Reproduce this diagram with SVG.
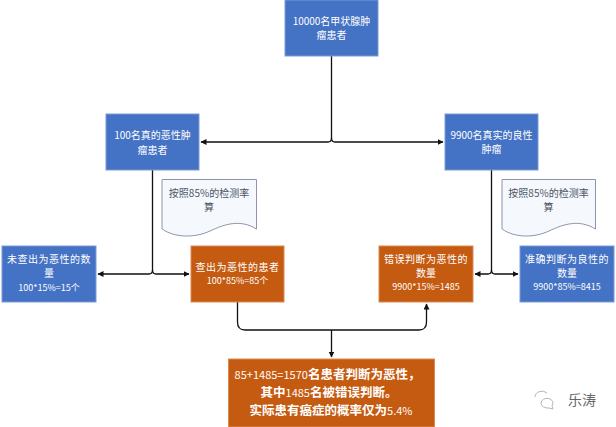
<svg xmlns="http://www.w3.org/2000/svg" width="616" height="427" viewBox="0 0 616 427">
<style>
.b{fill:#4472c4;stroke:#7d9ad6;stroke-width:1}
.o{fill:#c55a11;stroke:#d98a55;stroke-width:1}
.t{font-family:"Noto Sans CJK SC","Liberation Sans",sans-serif;font-size:10px;fill:#fff;text-anchor:middle}
.s{font-size:9px}
.l{letter-spacing:.5px}
.n{fill:#f5f8fd;stroke:#8c95ab;stroke-width:1}
.d{fill:#4d5566}
.w{font-family:"Noto Sans CJK SC","Liberation Sans",sans-serif;font-size:12.500px;font-weight:700;fill:#fff;text-anchor:middle}
.m{font-size:11px;font-weight:400}
.c{fill:none;stroke:#111;stroke-width:1.3}
</style>
<defs>
<marker id="a" markerWidth="7" markerHeight="7" refX="5.5" refY="3" orient="auto" markerUnits="userSpaceOnUse"><path d="M0 0L6 3L0 6Z" fill="#111"/></marker>
</defs>
<rect width="616" height="427" fill="#fff"/>
<g id="connectors">
<path class="c" d="M331.500 56V138Q331.500 142 328 142H201" marker-end="url(#a)"/>
<path class="c" d="M331.500 138Q331.500 142 335 142H443" marker-end="url(#a)"/>
<path class="c" d="M152.500 170V270Q152.500 274 149 274H98" marker-end="url(#a)"/>
<path class="c" d="M152.500 270Q152.500 274 156 274H189" marker-end="url(#a)"/>
<path class="c" d="M491.500 170V270Q491.500 274 488 274H475" marker-end="url(#a)"/>
<path class="c" d="M491.500 270Q491.500 274 495 274H518" marker-end="url(#a)"/>
<path class="c" d="M237.500 302V322Q237.500 330 245 330H419Q426.500 330 426.500 322V304" marker-end="url(#a)"/>
<path class="c" d="M331.500 330V357" marker-end="url(#a)"/>
</g>
<g id="n1"><rect class="b" x="285" y="0" width="93" height="56"/><text class="t" x="331.500" y="25">10000名甲状腺肿</text><text class="t" x="331.500" y="39">瘤患者</text></g>
<g id="n2"><rect class="b" x="106" y="114" width="93" height="56"/><text class="t" x="152.500" y="139">100名真的恶性肿</text><text class="t" x="152.500" y="154">瘤患者</text></g>
<g id="n3"><rect class="b" x="445" y="114" width="93" height="56"/><text class="t" x="491.500" y="139">9900名真实的良性</text><text class="t" x="491.500" y="153">肿瘤</text></g>
<g id="note1"><path class="n" d="M162 179.500H256.500V229C240 219 225 224 210 231C195 238 175 238 162 229Z"/><text class="t d" x="209" y="197">按照85%的检测率</text><text class="t d" x="209" y="211">算</text></g>
<g id="note2"><path class="n" d="M502 179.500H595.500V229C579 219 564 224 549 231C534 238 515 238 502 229Z"/><text class="t d" x="548.500" y="197">按照85%的检测率</text><text class="t d" x="548.500" y="211">算</text></g>
<g id="n4"><rect class="b" x="2" y="246" width="94" height="56"/><text class="t l" x="49" y="263">未查出为恶性的数</text><text class="t" x="49" y="277">量</text><text class="t s" x="49" y="291">100*15%=15个</text></g>
<g id="n5"><rect class="o" x="191" y="246" width="93" height="56"/><text class="t l" x="237.500" y="271">查出为恶性的患者</text><text class="t s" x="237.500" y="284">100*85%=85个</text></g>
<g id="n6"><rect class="o" x="379" y="246" width="94" height="56"/><text class="t l" x="426" y="263">错误判断为恶性的</text><text class="t" x="426" y="277">数量</text><text class="t s" x="426" y="290">9900*15%=1485</text></g>
<g id="n7"><rect class="b" x="520" y="246" width="94" height="56"/><text class="t l" x="567" y="263">准确判断为良性的</text><text class="t" x="567" y="277">数量</text><text class="t s" x="567" y="290">9900*85%=8415</text></g>
<g id="n8"><rect class="o" x="228.500" y="359" width="206" height="68"/><text class="w" x="327.500" y="379"><tspan class="m">85+1485=1570</tspan>名患者判断为恶性，</text><text class="w" x="329" y="397.200">其中<tspan class="m">1485</tspan>名被错误判断。</text><text class="w" x="331" y="415.400">实际患有癌症的概率仅为<tspan class="m">5.4%</tspan></text></g>
<g id="watermark"><path d="M535 397a7 6 0 0 1 12-4M541 403a6 5 0 1 1 11 3l1 3-4-1a7 5 0 0 1-8-5" fill="none" stroke="#b5b5b5" stroke-width="1"/><text x="568" y="405" font-family="'Noto Sans CJK SC',sans-serif" font-size="14px" fill="#666">乐涛</text></g>
</svg>
